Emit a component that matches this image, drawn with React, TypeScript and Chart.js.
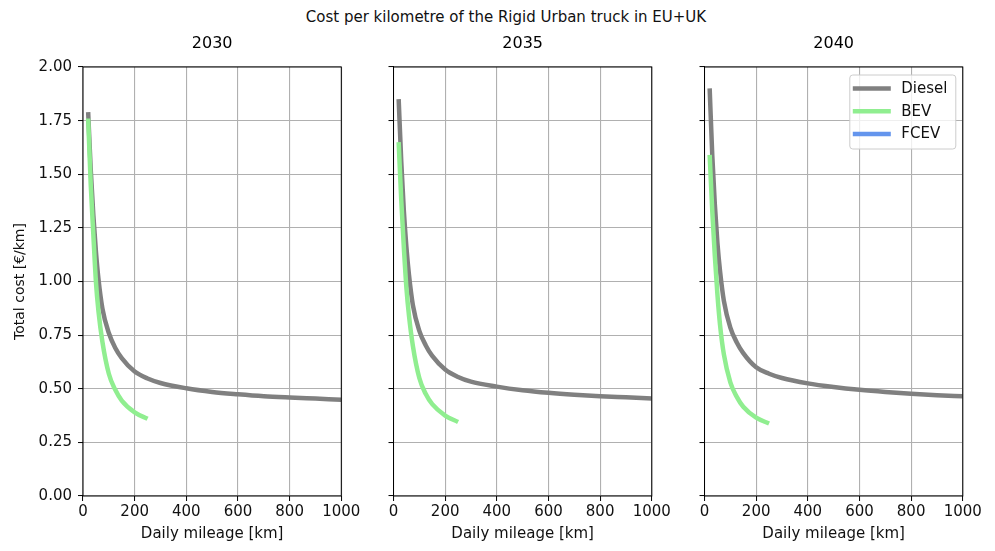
import React, { useEffect, useRef } from 'react';
import { Chart, registerables } from 'chart.js';
Chart.register(...registerables);

const FIG_TITLE = 'Cost per kilometre of the Rigid Urban truck in EU+UK';
const years = ['2030', '2035', '2040'];
const seriesNames = ['Diesel', 'BEV', 'FCEV'];
const seriesColors = ['#808080', '#90EE90', '#6495ED'];

const xTickMax = 1000;
const xTickStep = 200;
const yTickMax = 2;
const yTickStep = 0.25;

const dieselMileage = [20, 30, 40, 50, 60, 75, 100, 125, 150, 200, 250, 300, 400, 500, 600, 700, 800, 900, 1000];
const bevMileage = [20, 30, 40, 50, 60, 75, 100, 125, 150, 200, 250];

const diesel2030 = [1.79, 1.52, 1.31, 1.14, 1.01, 0.875, 0.76, 0.69, 0.643, 0.58, 0.548, 0.527, 0.502, 0.485, 0.474, 0.465, 0.459, 0.454, 0.449];
const diesel2035 = [1.85, 1.56, 1.33, 1.16, 1.03, 0.89, 0.77, 0.702, 0.653, 0.59, 0.555, 0.533, 0.51, 0.493, 0.481, 0.472, 0.465, 0.46, 0.455];
const diesel2040 = [1.9, 1.59, 1.36, 1.18, 1.05, 0.91, 0.785, 0.716, 0.666, 0.6, 0.57, 0.55, 0.525, 0.508, 0.495, 0.485, 0.477, 0.47, 0.465];

const bev2030 = [1.76, 1.45, 1.22, 1.0, 0.86, 0.72, 0.57, 0.495, 0.445, 0.39, 0.36];
const bev2035 = [1.65, 1.38, 1.16, 0.97, 0.84, 0.7, 0.55, 0.475, 0.428, 0.375, 0.345];
const bev2040 = [1.59, 1.33, 1.12, 0.94, 0.8, 0.66, 0.53, 0.462, 0.416, 0.365, 0.338];

const fcev2030: number[] = [];
const fcev2035: number[] = [];
const fcev2040: number[] = [];

const dieselByYear = [diesel2030, diesel2035, diesel2040];
const bevByYear = [bev2030, bev2035, bev2040];
const fcevByYear = [fcev2030, fcev2035, fcev2040];

const FONT = "'DejaVu Sans', sans-serif";
const PLOT_W = 258.3;

const panels = [
  { left: 0, width: 367, yW: 83 },
  { left: 383, width: 294, yW: 10.5 },
  { left: 694, width: 294, yW: 10.5 },
];

const framePlugin = {
  id: 'frame',
  afterDatasetsDraw(chart: any) {
    const { ctx, chartArea } = chart;
    ctx.save();
    ctx.strokeStyle = '#000';
    ctx.lineWidth = 1;
    ctx.strokeRect(chartArea.left, chartArea.top, chartArea.right - chartArea.left, chartArea.bottom - chartArea.top);
    ctx.restore();
  },
};

const legendPlugin = {
  id: 'innerLegend',
  afterDraw(chart: any, _args: any, opts: any) {
    if (!opts || !opts.show) return;
    const { ctx, chartArea } = chart;
    const w = 106;
    const h = 74;
    const x0 = chartArea.right - 7 - w;
    const y0 = chartArea.top + 8;
    ctx.save();
    ctx.fillStyle = 'rgba(255,255,255,0.8)';
    ctx.strokeStyle = '#cccccc';
    ctx.lineWidth = 1;
    ctx.beginPath();
    const r = 3;
    ctx.moveTo(x0 + r, y0);
    ctx.lineTo(x0 + w - r, y0);
    ctx.arcTo(x0 + w, y0, x0 + w, y0 + r, r);
    ctx.lineTo(x0 + w, y0 + h - r);
    ctx.arcTo(x0 + w, y0 + h, x0 + w - r, y0 + h, r);
    ctx.lineTo(x0 + r, y0 + h);
    ctx.arcTo(x0, y0 + h, x0, y0 + h - r, r);
    ctx.lineTo(x0, y0 + r);
    ctx.arcTo(x0, y0, x0 + r, y0, r);
    ctx.closePath();
    ctx.fill();
    ctx.stroke();
    ctx.font = `15px ${FONT}`;
    ctx.textBaseline = 'middle';
    ctx.textAlign = 'left';
    chart.data.datasets.forEach((ds: any, i: number) => {
      const yy = y0 + 13.5 + i * 22.7;
      ctx.strokeStyle = ds.borderColor;
      ctx.lineWidth = 4.5;
      ctx.lineCap = 'butt';
      ctx.beginPath();
      ctx.moveTo(x0 + 3, yy);
      ctx.lineTo(x0 + 41, yy);
      ctx.stroke();
      ctx.fillStyle = '#111';
      ctx.fillText(ds.label, x0 + 51.5, yy + 0.5);
    });
    ctx.restore();
  },
};

function Panel({ idx }: { idx: number }) {
  const ref = useRef<HTMLCanvasElement | null>(null);
  const p = panels[idx];
  useEffect(() => {
    if (!ref.current) return;
    const series = [
      dieselMileage.map((x, i) => ({ x, y: dieselByYear[idx][i] })),
      bevMileage.map((x, i) => ({ x, y: bevByYear[idx][i] })),
      fcevByYear[idx].map((y, i) => ({ x: bevMileage[i], y })),
    ];
    const chart = new Chart(ref.current, {
      type: 'line',
      data: {
        datasets: seriesNames.map((name, i) => ({
          label: name,
          data: series[i],
          borderColor: seriesColors[i],
          backgroundColor: seriesColors[i],
          borderWidth: 4.5,
          pointRadius: 0,
          fill: false,
          cubicInterpolationMode: 'monotone' as const,
          borderCapStyle: 'butt' as const,
          order: 2 - i,
        })),
      },
      options: {
        responsive: false,
        animation: false,
        events: [],
        layout: { autoPadding: false, padding: { top: 0, left: 0, bottom: 0, right: p.width - p.yW - PLOT_W } },
        plugins: {
          legend: { display: false },
          tooltip: { enabled: false },
          title: {
            display: true,
            text: years[idx],
            fullSize: false,
            color: '#000',
            font: { family: FONT, size: 16, weight: 'normal' },
            padding: { top: 0, bottom: 13.8 },
          },
          innerLegend: { show: idx === 2 },
        } as any,
        scales: {
          x: {
            type: 'linear',
            min: 0,
            max: xTickMax,
            afterFit: (s: any) => { s.height = 50; },
            ticks: {
              stepSize: xTickStep,
              color: '#111',
              padding: 2,
              maxRotation: 0,
              font: { family: FONT, size: 15 },
              callback: (v: any) => String(v),
            },
            grid: { color: '#b0b0b0', lineWidth: 1.1, tickLength: 5, tickColor: '#000', tickWidth: 1, drawTicks: true },
            border: { display: false },
            title: {
              display: true,
              text: 'Daily mileage [km]',
              color: '#111',
              font: { family: FONT, size: 15 },
              padding: { top: 4, bottom: 2.5 },
            },
          },
          y: {
            type: 'linear',
            min: 0,
            max: yTickMax,
            afterFit: (s: any) => { s.width = p.yW; },
            ticks: {
              stepSize: yTickStep,
              color: '#111',
              padding: 6,
              font: { family: FONT, size: 15 },
              callback: (v: any) => (idx === 0 ? Number(v).toFixed(2) : ''),
            },
            grid: { color: '#b0b0b0', lineWidth: 1.1, tickLength: 5, tickColor: '#000', tickWidth: 1, drawTicks: true },
            border: { display: false },
            title: {
              display: idx === 0,
              text: 'Total cost [€/km]',
              color: '#111',
              font: { family: FONT, size: 14 },
              padding: { top: 12, bottom: 4 },
            },
          },
        },
      } as any,
      plugins: [framePlugin, legendPlugin],
    });
    return () => chart.destroy();
  }, [idx]);
  return (
    <canvas
      ref={ref}
      width={p.width}
      height={512}
      style={{ position: 'absolute', left: p.left, top: 34, width: p.width, height: 512 }}
    />
  );
}

export default function App() {
  return (
    <div style={{ position: 'absolute', left: 0, top: 0, width: 995, height: 551, background: '#fff', overflow: 'hidden' }}>
      <div
        style={{
          position: 'absolute',
          left: 0,
          width: 1012,
          top: 7,
          textAlign: 'center',
          fontFamily: FONT,
          fontSize: 15,
          color: '#111',
          lineHeight: '20px',
        }}
      >
        {FIG_TITLE}
      </div>
      {years.map((_, i) => (
        <Panel key={i} idx={i} />
      ))}
    </div>
  );
}
